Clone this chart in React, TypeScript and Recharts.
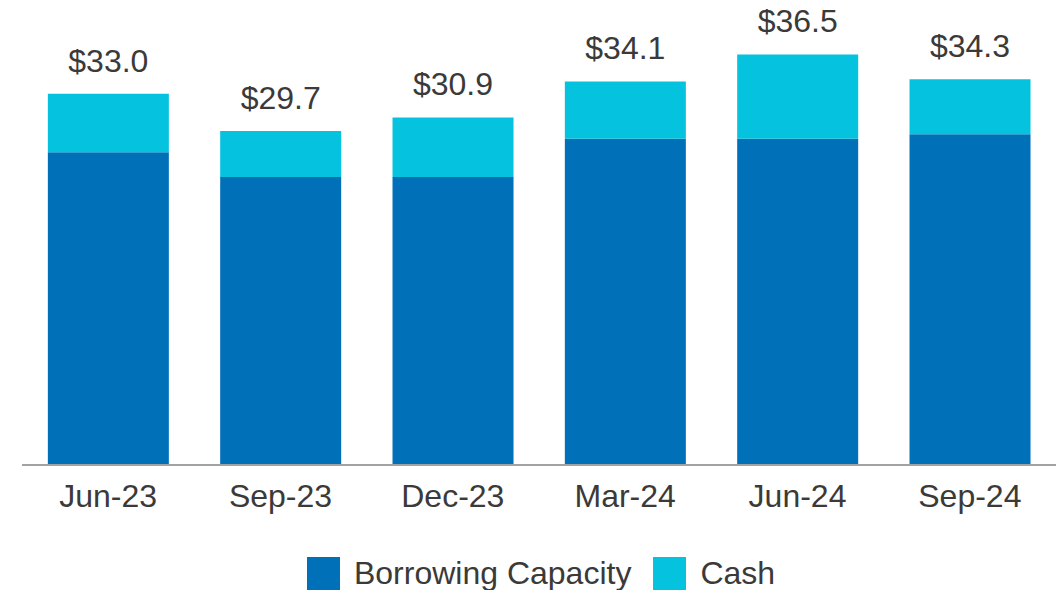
import React from 'react';
import { BarChart, Bar, XAxis, YAxis, Legend, LabelList } from 'recharts';

const categories = ['Jun-23', 'Sep-23', 'Dec-23', 'Mar-24', 'Jun-24', 'Sep-24'];
const borrowingCapacity = [27.8, 25.6, 25.6, 29.0, 29.0, 29.4];
const cash = [5.2, 4.1, 5.3, 5.1, 7.5, 4.9];
const totalLabels = ['$33.0', '$29.7', '$30.9', '$34.1', '$36.5', '$34.3'];

const data = categories.map((c, i) => ({
  name: c,
  bc: borrowingCapacity[i],
  cash: cash[i],
  label: totalLabels[i],
}));

const FONT = '"Liberation Sans", Arial, sans-serif';
const TEXT = '#3b3a38';
const DARK = '#0070b8';
const CYAN = '#05c3de';

const Tick = (props: any) => {
  const { x, y, payload } = props;
  return (
    <text x={x} y={y + 42} textAnchor="middle" fontFamily={FONT} fontSize={32} fill={TEXT}>
      {payload.value}
    </text>
  );
};

const TopLabel = (props: any) => {
  const { x, y, width, value } = props;
  return (
    <text x={x + width / 2} y={y - 22} textAnchor="middle" fontFamily={FONT} fontSize={32} fill={TEXT}>
      {value}
    </text>
  );
};

const LegendContent = () => (
  <div
    style={{
      height: 65,
      boxSizing: 'border-box',
      paddingTop: 31,
      paddingLeft: 4,
      display: 'flex',
      justifyContent: 'center',
      alignItems: 'center',
      fontFamily: FONT,
      fontSize: 32,
      color: TEXT,
    }}
  >
    <div style={{ display: 'flex', alignItems: 'center', height: 33 }}>
      <span style={{ display: 'inline-block', width: 33, height: 33, background: DARK, marginRight: 14 }} />
      <span style={{ lineHeight: '33px' }}>Borrowing Capacity</span>
    </div>
    <div style={{ display: 'flex', alignItems: 'center', height: 33, marginLeft: 22 }}>
      <span style={{ display: 'inline-block', width: 33, height: 33, background: CYAN, marginRight: 14 }} />
      <span style={{ lineHeight: '33px' }}>Cash</span>
    </div>
  </div>
);

export default function App() {
  return (
    <div style={{ position: 'absolute', left: 0, top: 0, background: '#fff' }}>
      <BarChart
        width={1064}
        height={590}
        data={data}
        margin={{ top: 15, right: 8, left: 22, bottom: 0 }}
        barCategoryGap="15%"
      >
        <XAxis
          dataKey="name"
          tickLine={false}
          tickSize={0}
          tickMargin={0}
          height={60}
          axisLine={{ stroke: '#a3a3a3', strokeWidth: 2 }}
          tick={<Tick />}
          interval={0}
        />
        <YAxis hide domain={[0, 40]} />
        <Legend verticalAlign="bottom" height={65} content={<LegendContent />} />
        <Bar dataKey="bc" name="Borrowing Capacity" stackId="a" fill={DARK} isAnimationActive={false} />
        <Bar dataKey="cash" name="Cash" stackId="a" fill={CYAN} isAnimationActive={false}>
          <LabelList dataKey="label" content={<TopLabel />} />
        </Bar>
      </BarChart>
    </div>
  );
}
